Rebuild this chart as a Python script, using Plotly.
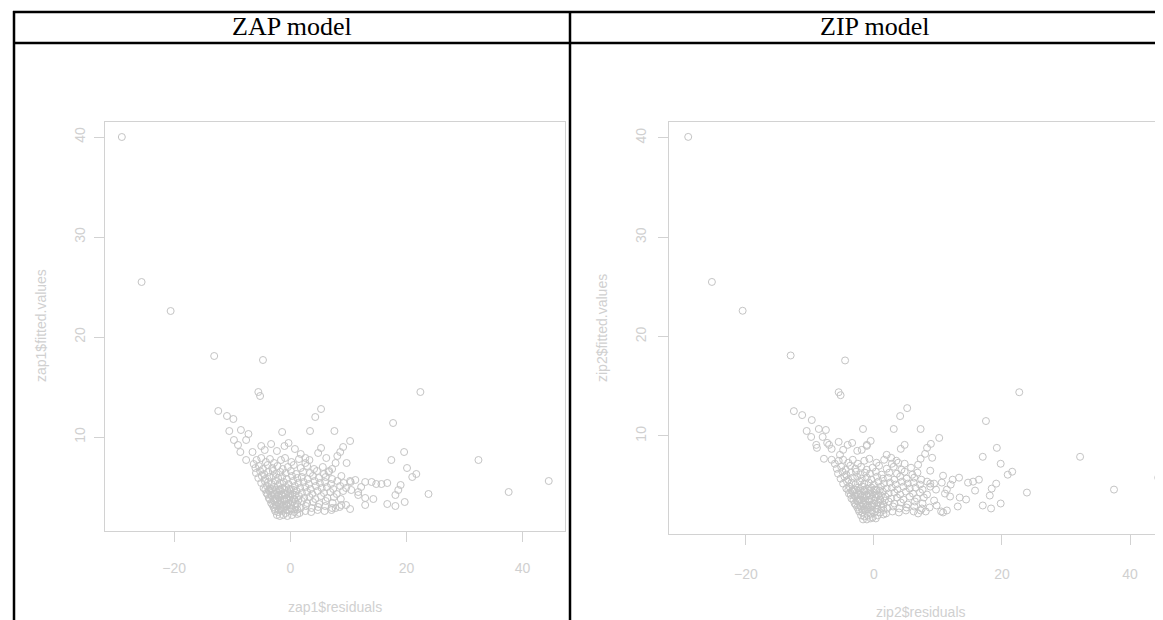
import plotly.graph_objects as go

# ---------------- data ----------------
zap_outliers = [
    (-29.0, 40.0), (-25.6, 25.5), (-20.6, 22.6), (-13.1, 18.1), (-4.7, 17.7), (-5.5, 14.5), (-5.2, 14.1),
    (-12.4, 12.6), (-10.9, 12.1), (-9.8, 11.8), (-10.5, 10.6), (-8.5, 10.7), (-7.2, 10.3), (-7.6, 9.7),
    (-9.7, 9.7), (-9.0, 9.2), (-8.6, 8.5), (-7.6, 7.7), (-6.5, 8.5), (-5.0, 9.1), (-3.3, 9.3), (-1.4, 10.5),
    (-1.0, 9.1), (-0.3, 9.4), (3.4, 10.6), (4.3, 12.0), (5.3, 12.8), (7.6, 10.6), (10.3, 9.6), (9.1, 9.0),
    (8.6, 8.5), (8.1, 8.1), (9.7, 7.4), (5.3, 8.9), (4.8, 8.4), (17.7, 11.4), (17.4, 7.7), (22.4, 14.5),
    (19.6, 8.5), (20.1, 6.9), (21.7, 6.3), (21.0, 6.0), (23.8, 4.3), (32.4, 7.7), (37.6, 4.5), (44.5, 5.6),
    (19.0, 5.2), (18.6, 4.7), (18.1, 4.2), (19.7, 3.5), (18.1, 3.1), (16.7, 3.3), (16.7, 5.4), (15.7, 5.3),
    (14.8, 5.3), (14.0, 5.5), (12.9, 5.5), (12.2, 5.0), (11.7, 4.5), (12.9, 3.9), (14.3, 3.8), (12.9, 3.2),
    (7.8, 7.4), (7.2, 6.8), (6.7, 6.6), (8.8, 6.1), (10.3, 5.6), (11.2, 5.7), (10.5, 4.7), (11.7, 4.2),
    (10.3, 2.8), (8.8, 3.2), (7.8, 2.9), (-4.4, 8.7), (-2.3, 8.6), (1.8, 8.3), (2.6, 7.9), (6.2, 7.9), (0.8, 8.8),
]
zap_cluster = [
    (-6.3, 7.3), (-5.8, 7.7), (-5.0, 7.9), (-4.2, 7.5), (-3.5, 7.8), (-2.8, 7.4), (-1.6, 7.7), (-0.9, 7.9),
    (0.2, 7.5), (1.5, 7.8), (2.6, 7.4), (3.3, 7.7),
    (-6.0, 6.9), (-5.4, 7.1), (-4.7, 6.8), (-3.9, 7.2), (-3.1, 6.9), (-2.2, 7.1), (-1.3, 6.8), (-0.4, 7.0),
    (0.6, 7.2), (1.8, 6.9), (2.9, 7.1), (4.1, 6.8), (5.6, 7.0),
    (-5.9, 6.4), (-5.2, 6.6), (-4.5, 6.3), (-3.8, 6.5), (-3.0, 6.6), (-2.4, 6.3), (-1.7, 6.5), (-0.8, 6.4),
    (0.1, 6.6), (1.0, 6.3), (2.2, 6.5), (3.4, 6.4), (4.6, 6.6), (5.8, 6.3), (6.6, 6.5),
    (-5.5, 5.9), (-4.9, 6.1), (-4.3, 5.8), (-3.6, 6.0), (-2.9, 6.1), (-2.1, 5.9), (-1.4, 6.0), (-0.6, 5.8),
    (0.3, 6.1), (1.2, 5.9), (2.0, 6.0), (3.0, 5.8), (3.9, 6.1), (4.9, 5.9), (6.1, 6.0), (7.2, 5.8),
    (-5.0, 5.4), (-4.4, 5.6), (-3.8, 5.5), (-3.2, 5.3), (-2.5, 5.6), (-1.8, 5.4), (-1.1, 5.5), (-0.3, 5.3),
    (0.5, 5.6), (1.4, 5.4), (2.3, 5.5), (3.2, 5.3), (4.2, 5.6), (5.1, 5.4), (6.0, 5.5), (7.0, 5.3), (8.1, 5.6),
    (9.2, 5.4), (10.4, 5.5),
    (-4.6, 4.9), (-4.0, 5.1), (-3.4, 4.8), (-2.8, 5.0), (-2.1, 5.1), (-1.4, 4.9), (-0.7, 5.0), (0.1, 4.8),
    (0.8, 5.1), (1.7, 4.9), (2.6, 5.0), (3.5, 4.8), (4.4, 5.1), (5.4, 4.9), (6.3, 5.0), (7.4, 4.8), (8.6, 5.1),
    (9.6, 4.9),
    (-4.1, 4.4), (-3.6, 4.6), (-3.0, 4.5), (-2.4, 4.3), (-1.8, 4.6), (-1.1, 4.4), (-0.4, 4.5), (0.4, 4.3),
    (1.1, 4.6), (2.0, 4.4), (2.9, 4.5), (3.8, 4.3), (4.7, 4.6), (5.8, 4.4), (6.9, 4.5), (8.0, 4.3), (9.1, 4.6),
    (-3.7, 3.9), (-3.2, 4.1), (-2.6, 3.8), (-2.0, 4.0), (-1.4, 4.1), (-0.7, 3.9), (0.0, 4.0), (0.7, 3.8),
    (1.5, 4.1), (2.4, 3.9), (3.3, 4.0), (4.3, 3.8), (5.3, 4.1), (6.4, 3.9), (7.5, 4.0), (8.7, 3.8),
    (-3.3, 3.4), (-2.8, 3.6), (-2.2, 3.5), (-1.6, 3.3), (-1.0, 3.6), (-0.3, 3.4), (0.4, 3.5), (1.2, 3.3),
    (2.0, 3.6), (2.9, 3.4), (3.9, 3.5), (5.0, 3.3), (6.1, 3.6), (7.3, 3.4),
    (-2.9, 3.0), (-2.4, 3.1), (-1.8, 2.9), (-1.2, 3.0), (-0.6, 3.1), (0.1, 2.9), (0.9, 3.0), (1.8, 2.9),
    (2.7, 3.1), (3.7, 2.9), (4.8, 3.0), (6.0, 3.1), (7.2, 2.9), (8.5, 3.0), (9.6, 3.2),
    (-2.6, 2.6), (-2.1, 2.5), (-1.5, 2.6), (-0.8, 2.4), (-0.1, 2.6), (0.7, 2.5), (1.6, 2.4), (2.6, 2.6),
    (3.6, 2.5), (4.7, 2.7), (5.9, 2.6), (7.1, 2.7),
    (-2.3, 2.2), (-1.8, 2.1), (-1.2, 2.2), (-0.5, 2.1), (0.3, 2.2), (1.2, 2.3),
    (-2.7, 2.8), (-2.0, 2.75), (-1.3, 2.8), (-0.6, 2.7), (0.3, 2.8), (1.2, 2.75),
    (-3.1, 3.25), (-2.5, 3.2), (-1.9, 3.3), (-1.3, 3.2), (-0.6, 3.25), (0.1, 3.2), (0.8, 3.3),
    (-3.5, 3.75), (-2.9, 3.7), (-2.3, 3.8), (-1.7, 3.7), (-1.0, 3.75), (-0.2, 3.7), (0.6, 3.8), (1.4, 3.7),
    (-3.9, 4.25), (-3.3, 4.2), (-2.7, 4.3), (-2.1, 4.2), (-1.5, 4.25), (-0.8, 4.2), (0.0, 4.3), (0.8, 4.2),
    (-4.3, 4.75), (-3.7, 4.7), (-3.1, 4.8), (-2.5, 4.7), (-1.8, 4.75), (-1.0, 4.7), (-0.2, 4.8), (0.6, 4.7),
]

zip_outliers = [
    (-29.0, 40.1), (-25.3, 25.5), (-20.5, 22.6), (-13.0, 18.1), (-4.5, 17.6), (-5.5, 14.4), (-5.2, 14.1),
    (-12.5, 12.5), (-11.2, 12.1), (-9.7, 11.6), (-10.5, 10.5), (-8.6, 10.7), (-7.5, 10.6), (-9.8, 9.9),
    (-8.0, 9.9), (-9.0, 9.1), (-8.9, 8.8), (-7.3, 9.3), (-7.0, 9.1), (-6.6, 8.7), (-5.5, 9.4), (-4.1, 9.1),
    (-3.4, 9.3), (-7.8, 7.7), (-6.6, 7.6), (-1.7, 10.7), (-1.1, 9.1), (-0.5, 9.5), (-1.1, 9.0), (3.1, 10.7),
    (4.1, 12.0), (5.2, 12.8), (7.3, 10.7), (10.2, 9.8), (8.9, 9.2), (8.3, 8.8), (8.0, 8.2), (7.3, 7.7),
    (4.8, 9.1), (4.2, 8.7), (9.1, 7.8), (2.0, 8.1), (2.7, 7.8), (3.8, 7.3), (4.8, 7.2), (-2.6, 8.5),
    (-1.9, 8.6), (-5.3, 8.1), (-4.8, 8.6),
    (22.7, 14.4), (17.5, 11.5), (19.2, 8.8), (17.0, 7.9), (19.8, 7.2), (21.6, 6.4), (20.9, 6.1), (23.9, 4.3),
    (32.2, 7.9), (37.5, 4.6), (44.4, 5.8),
    (19.1, 5.2), (18.4, 4.7), (18.1, 4.0), (19.8, 3.2), (18.3, 2.7), (17.0, 3.0),
    (16.4, 5.6), (15.5, 5.4), (14.7, 5.3), (13.3, 5.8), (12.3, 5.6), (12.0, 5.1), (11.4, 4.6), (11.1, 4.2),
    (11.9, 3.9), (13.4, 3.8), (14.4, 3.6), (15.8, 4.5), (13.1, 2.9), (11.4, 2.5), (10.8, 2.3),
    (6.9, 7.1), (8.8, 6.5), (10.8, 6.0), (8.8, 5.2), (9.7, 4.6), (9.4, 3.5), (8.1, 2.4), (10.5, 2.4), (6.9, 2.2),
]
zip_cluster = [
    (-6.1, 7.2), (-5.5, 7.5), (-4.8, 7.6), (-4.0, 7.3), (-3.3, 7.6), (-2.5, 7.2), (-1.5, 7.5), (-0.7, 7.7),
    (0.4, 7.3), (1.6, 7.6), (2.8, 7.2), (3.5, 7.5),
    (-5.8, 6.7), (-5.1, 6.9), (-4.4, 6.6), (-3.7, 7.0), (-2.9, 6.7), (-2.0, 6.9), (-1.1, 6.6), (-0.2, 6.8),
    (0.8, 7.0), (2.0, 6.7), (3.1, 6.9), (4.3, 6.6), (5.8, 6.8),
    (-5.6, 6.2), (-4.9, 6.4), (-4.3, 6.1), (-3.6, 6.3), (-2.8, 6.4), (-2.1, 6.1), (-1.4, 6.3), (-0.6, 6.2),
    (0.3, 6.4), (1.2, 6.1), (2.4, 6.3), (3.6, 6.2), (4.8, 6.4), (6.0, 6.1), (6.8, 6.3),
    (-5.2, 5.7), (-4.6, 5.9), (-4.0, 5.6), (-3.3, 5.8), (-2.6, 5.9), (-1.9, 5.7), (-1.1, 5.8), (-0.4, 5.6),
    (0.5, 5.9), (1.4, 5.7), (2.2, 5.8), (3.2, 5.6), (4.1, 5.9), (5.1, 5.7), (6.3, 5.8), (7.4, 5.6),
    (-4.8, 5.2), (-4.2, 5.4), (-3.5, 5.3), (-2.9, 5.1), (-2.2, 5.4), (-1.5, 5.2), (-0.8, 5.3), (0.0, 5.1),
    (0.7, 5.4), (1.6, 5.2), (2.5, 5.3), (3.4, 5.1), (4.4, 5.4), (5.3, 5.2), (6.2, 5.3), (7.2, 5.1), (8.3, 5.4),
    (9.4, 5.2), (10.6, 5.3),
    (-4.3, 4.7), (-3.8, 4.9), (-3.1, 4.6), (-2.5, 4.8), (-1.8, 4.9), (-1.1, 4.7), (-0.4, 4.8), (0.4, 4.6),
    (1.1, 4.9), (2.0, 4.7), (2.8, 4.8), (3.7, 4.6), (4.6, 4.9), (5.6, 4.7), (6.5, 4.8), (7.6, 4.6), (8.8, 4.9),
    (-3.9, 4.2), (-3.3, 4.4), (-2.7, 4.3), (-2.1, 4.1), (-1.5, 4.4), (-0.8, 4.2), (-0.1, 4.3), (0.7, 4.1),
    (1.4, 4.4), (2.3, 4.2), (3.2, 4.3), (4.1, 4.1), (5.0, 4.4), (6.1, 4.2), (7.2, 4.3), (8.3, 4.1),
    (-3.5, 3.7), (-2.9, 3.9), (-2.3, 3.6), (-1.7, 3.8), (-1.1, 3.9), (-0.4, 3.7), (0.3, 3.8), (1.0, 3.6),
    (1.8, 3.9), (2.7, 3.7), (3.6, 3.8), (4.6, 3.6), (5.6, 3.9), (6.7, 3.7), (7.8, 3.8),
    (-3.0, 3.2), (-2.5, 3.4), (-1.9, 3.3), (-1.3, 3.1), (-0.7, 3.4), (0.0, 3.2), (0.7, 3.3), (1.5, 3.1),
    (2.3, 3.4), (3.2, 3.2), (4.2, 3.3), (5.3, 3.1), (6.4, 3.4), (7.6, 3.2),
    (-2.6, 2.8), (-2.1, 2.9), (-1.5, 2.7), (-0.9, 2.8), (-0.3, 2.9), (0.4, 2.7), (1.2, 2.8), (2.1, 2.7),
    (3.0, 2.9), (4.0, 2.7), (5.1, 2.8), (6.3, 2.9), (7.5, 2.7), (8.7, 2.8), (9.8, 3.0),
    (-2.3, 2.4), (-1.8, 2.3), (-1.2, 2.4), (-0.5, 2.2), (0.2, 2.4), (1.0, 2.3), (1.9, 2.2), (2.9, 2.4),
    (3.9, 2.3), (5.0, 2.5), (6.2, 2.4), (7.3, 2.5),
    (-2.0, 2.0), (-1.5, 1.9), (-0.9, 2.0), (-0.2, 1.8), (0.6, 2.0), (1.5, 2.1),
    (-1.7, 1.6), (-1.1, 1.6), (-0.5, 1.7), (0.3, 1.7),
    (-2.4, 2.6), (-1.7, 2.55), (-1.0, 2.6), (-0.3, 2.5), (0.6, 2.6), (1.5, 2.55),
    (-2.8, 3.05), (-2.2, 3.0), (-1.6, 3.1), (-1.0, 3.0), (-0.3, 3.05), (0.4, 3.0), (1.1, 3.1),
    (-3.2, 3.55), (-2.6, 3.5), (-2.0, 3.6), (-1.4, 3.5), (-0.7, 3.55), (0.1, 3.5), (0.9, 3.6), (1.7, 3.5),
    (-3.6, 4.05), (-3.0, 4.0), (-2.4, 4.1), (-1.8, 4.0), (-1.2, 4.05), (-0.5, 4.0), (0.3, 4.1), (1.1, 4.0),
    (-4.0, 4.55), (-3.4, 4.5), (-2.8, 4.6), (-2.2, 4.5), (-1.5, 4.55), (-0.7, 4.5), (0.1, 4.6), (0.9, 4.5),
]

zap_points = zap_outliers + zap_cluster
zip_points = zip_outliers + zip_cluster
zap_resid = [p[0] for p in zap_points]
zap_fitted = [p[1] for p in zap_points]
zip_resid = [p[0] for p in zip_points]
zip_fitted = [p[1] for p in zip_points]

x_ticks = [-20, 0, 20, 40]
y_ticks = [10, 20, 30, 40]
headers = ["ZAP model", "ZIP model"]
x_titles = ["zap1$residuals", "zip2$residuals"]
y_titles = ["zap1$fitted.values", "zip2$fitted.values"]

# ---------------- styling ----------------
W, H = 1163, 620
PT = "#c4c4c4"
BOX = "#d2d2d2"
LBL = "#d0d0d0"
SANS = "Liberation Sans, Arial, sans-serif"
SERIF = "Liberation Serif, Times New Roman, serif"


def px(x):
    return x / W


def py(y):
    return 1 - y / H


fig = go.Figure()
mk = dict(symbol="circle-open", size=7, color=PT, line=dict(width=1, color=PT))
fig.add_trace(go.Scatter(x=zap_resid, y=zap_fitted, mode="markers", marker=mk,
                         xaxis="x", yaxis="y", showlegend=False, hoverinfo="skip"))
fig.add_trace(go.Scatter(x=zip_resid, y=zip_fitted, mode="markers", marker=mk,
                         xaxis="x2", yaxis="y2", showlegend=False, hoverinfo="skip"))

ax = dict(showgrid=False, zeroline=False, showline=True, linecolor=BOX, linewidth=1,
          ticks="outside", ticklen=10, tickwidth=1, tickcolor=BOX,
          tickfont=dict(family=SANS, size=14, color=LBL), automargin=False, fixedrange=True)

fig.update_layout(
    width=W, height=H, margin=dict(l=0, r=0, t=0, b=0),
    paper_bgcolor="white", plot_bgcolor="white",
    xaxis=dict(ax, domain=[px(97), px(557)], range=[-31.9, 47.3], tickvals=x_ticks,
               mirror=True, anchor="y", ticklabelstandoff=14),
    yaxis=dict(ax, domain=[py(523), py(114)], range=[0.6, 41.5], tickvals=y_ticks,
               tickangle=-90, mirror=True, anchor="x", ticklabelstandoff=3),
    xaxis2=dict(ax, domain=[px(661), 1.0], range=[-32.0, 46.4], tickvals=x_ticks,
                mirror=True, anchor="y2", ticklabelstandoff=17),
    yaxis2=dict(ax, domain=[py(526), py(114)], range=[0.13, 41.6], tickvals=y_ticks,
                tickangle=-90, mirror=False, anchor="x2", ticklabelstandoff=6),
)

# table grid
lw = 2.5
lines = [
    (5, 4, W, 4), (5, 35, W, 35), (6, 3, 6, H), (562, 3, 562, H),
]
for x0, y0, x1, y1 in lines:
    fig.add_shape(type="line", xref="paper", yref="paper",
                  x0=px(x0), y0=py(y0), x1=px(x1), y1=py(y1),
                  line=dict(color="black", width=lw))

ann = []
ann.append(dict(text=headers[0], x=px(284), y=py(19)))
ann.append(dict(text=headers[1], x=px(867), y=py(19)))
for a in ann:
    a.update(xref="paper", yref="paper", showarrow=False, xanchor="center", yanchor="middle",
             font=dict(family=SERIF, size=26, color="black"))
titles = [
    dict(text=x_titles[0], x=px(327), y=py(599)),
    dict(text=x_titles[1], x=px(913), y=py(604)),
    dict(text=y_titles[0], x=px(33), y=py(318), textangle=-90),
    dict(text=y_titles[1], x=px(594), y=py(320), textangle=-90),
]
for t in titles:
    t.update(xref="paper", yref="paper", showarrow=False, xanchor="center", yanchor="middle",
             font=dict(family=SANS, size=14, color=LBL))
fig.update_layout(annotations=ann + titles)

fig.write_html("out.html")
